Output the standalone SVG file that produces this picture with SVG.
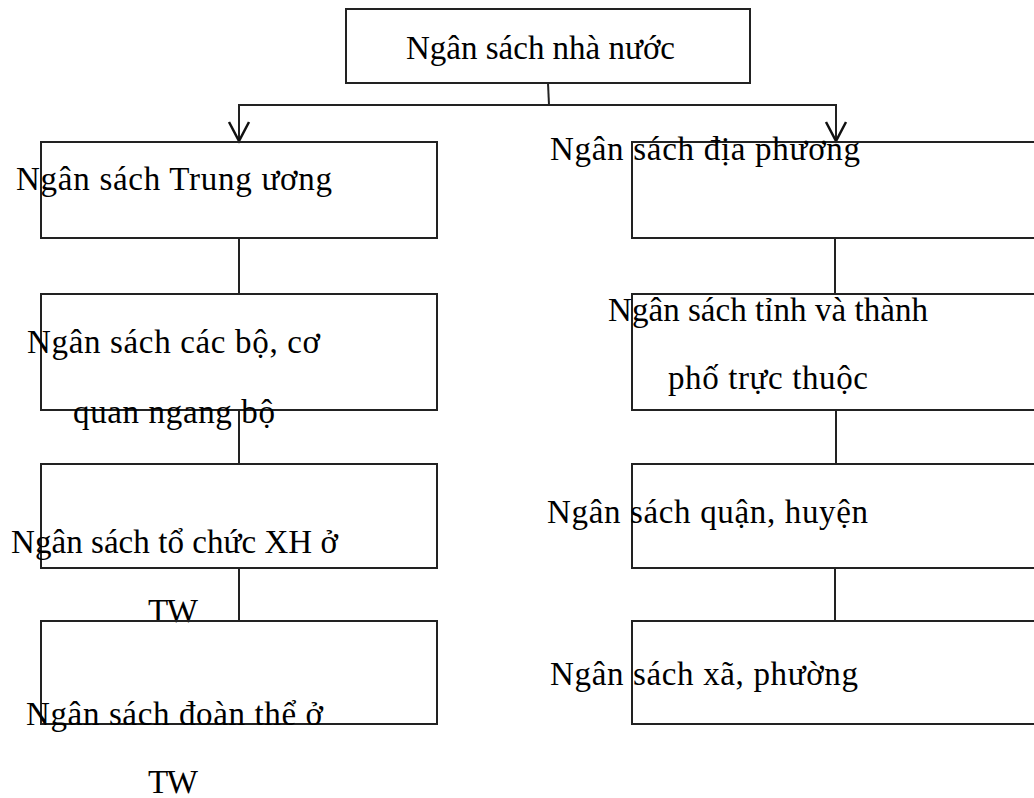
<svg xmlns="http://www.w3.org/2000/svg" width="1034" height="798" viewBox="0 0 1034 798">
<style>
.box{fill:none;stroke:#222;stroke-width:2}
.ln{fill:none;stroke:#222;stroke-width:2}
.ah{fill:none;stroke:#111;stroke-width:2.5}
.t{font-family:"Liberation Serif","Times New Roman",serif;font-size:33px;fill:#000}
</style>
<rect width="1034" height="798" fill="#fff"/>
<g id="connectors">
<line class="ln" x1="548" y1="83" x2="549" y2="105"/>
<line class="ln" x1="239" y1="105" x2="836" y2="105"/>
<path class="ln" d="M239,104 V141"/>
<path class="ln" d="M836,104 V141"/>
<path class="ah" d="M229,122 L239,141 L249,122"/>
<path class="ah" d="M826,122 L836,141 L846,122"/>
<line class="ln" x1="239" y1="238" x2="239" y2="294"/>
<line class="ln" x1="239" y1="410" x2="239" y2="464"/>
<line class="ln" x1="239" y1="568" x2="239" y2="621"/>
<line class="ln" x1="835" y1="238" x2="835" y2="294"/>
<line class="ln" x1="836" y1="410" x2="836" y2="464"/>
<line class="ln" x1="835" y1="568" x2="835" y2="621"/>
</g>
<g id="n-root">
<rect class="box" x="346" y="9" width="404" height="74"/>
<text class="t" x="406" y="59" textLength="269" lengthAdjust="spacing">Ngân sách nhà nước</text>
</g>
<g id="n-tw">
<rect class="box" x="41" y="142" width="396" height="96"/>
<text class="t" x="16" y="190" textLength="316" lengthAdjust="spacing">Ngân sách Trung ương</text>
</g>
<g id="n-bo">
<rect class="box" x="41" y="294" width="396" height="116"/>
<text class="t" x="27" y="353" textLength="293" lengthAdjust="spacing">Ngân sách các bộ, cơ</text>
<text class="t" x="73" y="423" textLength="202" lengthAdjust="spacing">quan ngang bộ</text>
</g>
<g id="n-tcxh">
<rect class="box" x="41" y="464" width="396" height="104"/>
<text class="t" x="11" y="553" textLength="327" lengthAdjust="spacing">Ngân sách tổ chức XH ở</text>
<text class="t" x="148" y="622" textLength="50" lengthAdjust="spacing">TW</text>
</g>
<g id="n-dt">
<rect class="box" x="41" y="621" width="396" height="103"/>
<text class="t" x="26" y="725" textLength="297" lengthAdjust="spacing">Ngân sách đoàn thể ở</text>
<text class="t" x="148" y="793" textLength="50" lengthAdjust="spacing">TW</text>
</g>
<g id="n-dp">
<rect class="box" x="632" y="142" width="420" height="96"/>
<text class="t" x="550" y="160" textLength="310" lengthAdjust="spacing">Ngân sách địa phương</text>
</g>
<g id="n-tinh">
<rect class="box" x="632" y="294" width="420" height="116"/>
<text class="t" x="608" y="321" textLength="320" lengthAdjust="spacing">Ngân sách tỉnh và thành</text>
<text class="t" x="668" y="389" textLength="200" lengthAdjust="spacing">phố trực thuộc</text>
</g>
<g id="n-huyen">
<rect class="box" x="632" y="464" width="420" height="104"/>
<text class="t" x="547" y="523" textLength="321" lengthAdjust="spacing">Ngân sách quận, huyện</text>
</g>
<g id="n-xa">
<rect class="box" x="632" y="621" width="420" height="103"/>
<text class="t" x="550" y="685" textLength="308" lengthAdjust="spacing">Ngân sách xã, phường</text>
</g>
</svg>
